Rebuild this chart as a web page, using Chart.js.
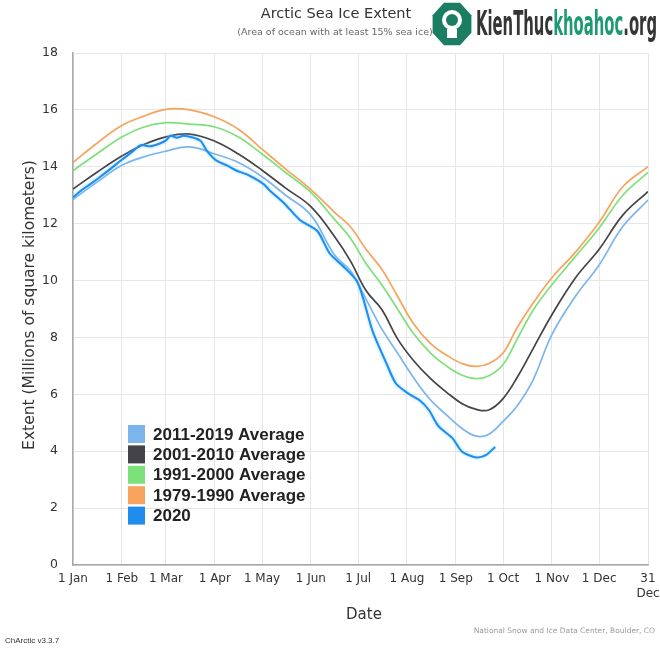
<!DOCTYPE html>
<html>
<head>
<meta charset="utf-8">
<title>Arctic Sea Ice Extent</title>
<script src="https://cdn.jsdelivr.net/npm/chart.js@4.4.1/dist/chart.umd.min.js"></script>
<style>
  html, body { margin: 0; padding: 0; background: #fff; }
  #wrap { width: 660px; height: 648px; }
</style>
</head>
<body>
<div id="wrap"><canvas id="iceChart" width="660" height="648"></canvas></div>
<script>
// day of year for the averaged curves
const days = [0, 15, 31, 45, 59, 74, 90, 105, 120, 135, 151, 166, 176, 186, 196, 206, 216, 227, 237, 247, 256, 264, 273, 282, 292, 304, 319, 334, 349, 365];

// extent, millions of km2
const avg2011_2019 = [12.85, 13.45, 14.05, 14.35, 14.55, 14.7, 14.45, 14.15, 13.65, 13.0, 12.3, 10.9, 10.35, 9.35, 8.3, 7.45, 6.6, 5.8, 5.28, 4.8, 4.53, 4.6, 5.05, 5.6, 6.5, 8.1, 9.45, 10.55, 11.9, 12.83];
const avg2001_2010 = [13.22, 13.8, 14.38, 14.78, 15.05, 15.15, 14.9, 14.45, 13.88, 13.25, 12.6, 11.55, 10.7, 9.65, 8.98, 7.95, 7.2, 6.55, 6.08, 5.67, 5.47, 5.45, 5.85, 6.6, 7.6, 8.8, 10.1, 11.1, 12.3, 13.13];
const avg1991_2000 = [13.86, 14.45, 15.05, 15.4, 15.55, 15.5, 15.4, 15.05, 14.45, 13.8, 13.1, 12.15, 11.5, 10.6, 9.85, 9.0, 8.15, 7.45, 7.0, 6.67, 6.55, 6.65, 7.05, 7.95, 8.95, 9.85, 10.85, 11.85, 13.0, 13.8];
const avg1979_1990 = [14.15, 14.82, 15.45, 15.78, 16.02, 16.0, 15.75, 15.32, 14.62, 13.92, 13.2, 12.4, 11.9, 11.1, 10.4, 9.45, 8.5, 7.78, 7.38, 7.08, 6.98, 7.08, 7.45, 8.35, 9.2, 10.1, 11.0, 12.05, 13.3, 14.0];

// 2020 readings
const days2020 = [0, 5, 11, 19, 30, 38, 43, 49, 55, 59, 62, 66, 70, 76, 81, 85, 91, 98, 104, 110, 114, 121, 125, 134, 144, 155, 163, 171, 180, 184, 190, 199, 205, 213, 220, 226, 232, 241, 247, 256, 262, 268];
const ext2020 = [12.92, 13.16, 13.39, 13.72, 14.2, 14.55, 14.76, 14.72, 14.82, 14.93, 15.09, 15.02, 15.09, 15.03, 14.91, 14.56, 14.22, 14.04, 13.86, 13.74, 13.63, 13.39, 13.16, 12.72, 12.13, 11.75, 10.95, 10.53, 10.0, 9.41, 8.25, 7.08, 6.38, 6.02, 5.79, 5.44, 4.88, 4.45, 3.98, 3.78, 3.86, 4.15];

const monthTicks = [0, 31, 59, 90, 120, 151, 181, 212, 243, 273, 304, 334, 365];
const monthLabels = ['1 Jan', '1 Feb', '1 Mar', '1 Apr', '1 May', '1 Jun', '1 Jul', '1 Aug', '1 Sep', '1 Oct', '1 Nov', '1 Dec', ['31', 'Dec']];

const seriesNames = ['2011-2019 Average', '2001-2010 Average', '1991-2000 Average', '1979-1990 Average', '2020'];
const seriesColors = ['#7cb5ec', '#434348', '#7ee07a', '#f7a35c', '#1f8ded'];

const FONT = '"DejaVu Sans", "Open Sans", sans-serif';

const toPoints = (xs, ys) => xs.map((d, i) => ({ x: d, y: ys[i] }));

function lineSet(i, values, xs) {
  return {
    label: seriesNames[i],
    data: toPoints(xs, values),
    borderColor: seriesColors[i],
    backgroundColor: seriesColors[i],
    borderWidth: i === 4 ? 2 : 1.7,
    pointRadius: 0,
    tension: i === 4 ? 0.25 : 0.4,
    fill: false,
    order: i === 4 ? 0 : 1
  };
}

// glow under the 2020 line
const glowPlugin = {
  id: 'glow',
  beforeDatasetDraw(chart, args) {
    if (args.index !== 4) return;
    chart.ctx.save();
    chart.ctx.shadowColor = 'rgba(110,205,255,0.8)';
    chart.ctx.shadowBlur = 3;
  },
  afterDatasetDraw(chart, args) {
    if (args.index !== 4) return;
    chart.ctx.restore();
  }
};

// titles, legend, credits
const textPlugin = {
  id: 'texts',
  afterDraw(chart) {
    const ctx = chart.ctx;
    ctx.save();

    ctx.fillStyle = '#333';
    ctx.textAlign = 'center';
    ctx.textBaseline = 'middle';
    ctx.font = '14.5px ' + FONT;
    ctx.fillText('Arctic Sea Ice Extent', 336, 14);
    ctx.fillStyle = '#666';
    ctx.font = '9.5px ' + FONT;
    ctx.fillText('(Area of ocean with at least 15% sea ice)', 335, 33);

    ctx.fillStyle = '#333';
    ctx.font = '15px ' + FONT;
    ctx.fillText('Date', 364, 615);

    ctx.save();
    ctx.translate(30, 305);
    ctx.rotate(-Math.PI / 2);
    ctx.font = '15.5px ' + FONT;
    ctx.fillText('Extent (Millions of square kilometers)', 0, 0);
    ctx.restore();

    ctx.textAlign = 'right';
    ctx.fillStyle = '#999';
    ctx.font = '7.5px ' + FONT;
    ctx.fillText('National Snow and Ice Data Center, Boulder, CO', 655, 631);
    ctx.textAlign = 'left';
    ctx.fillStyle = '#333';
    ctx.font = '8px "Liberation Sans", Arial, sans-serif';
    ctx.fillText('ChArctic v3.3.7', 5, 641);

    // legend inside the plot
    chart.data.datasets.forEach((ds, i) => {
      const y = 425 + i * 20.4;
      ctx.fillStyle = ds.borderColor;
      ctx.fillRect(128, y, 17, 18);
      ctx.fillStyle = '#222';
      ctx.font = 'bold 17px "Liberation Sans", Arial, sans-serif';
      ctx.textBaseline = 'middle';
      ctx.fillText(ds.label, 153, y + 10);
    });

    // watermark
    ctx.fillStyle = '#1b7d62';
    ctx.beginPath();
    for (let k = 0; k < 8; k++) {
      const a = Math.PI / 8 + k * Math.PI / 4;
      const px = 452 + 21 * Math.cos(a), py = 24 + 23 * Math.sin(a);
      if (k === 0) ctx.moveTo(px, py); else ctx.lineTo(px, py);
    }
    ctx.closePath();
    ctx.fill();
    ctx.fillStyle = '#fff';
    ctx.beginPath();
    ctx.arc(452, 20, 10, 0, Math.PI * 2);
    ctx.fill();
    ctx.fillRect(447, 29, 10, 9);
    ctx.fillStyle = '#1b7d62';
    ctx.beginPath();
    ctx.arc(452, 20, 6, 0, Math.PI * 2);
    ctx.fill();

    ctx.save();
    ctx.font = 'bold 34px "DejaVu Sans Condensed", "DejaVu Sans", sans-serif';
    ctx.textBaseline = 'alphabetic';
    const p1 = 'KienThuc', p2 = 'khoahoc', p3 = '.org';
    const w1 = ctx.measureText(p1).width, w2 = ctx.measureText(p2).width, w3 = ctx.measureText(p3).width;
    ctx.translate(476, 35);
    ctx.scale(181 / (w1 + w2 + w3), 1);
    ctx.fillStyle = '#353535';
    ctx.fillText(p1, 0, 0);
    ctx.fillStyle = '#1d9a74';
    ctx.fillText(p2, w1, 0);
    ctx.fillStyle = '#353535';
    ctx.fillText(p3, w1 + w2, 0);
    ctx.restore();

    ctx.restore();
  }
};

const ctx = document.getElementById('iceChart').getContext('2d');

new Chart(ctx, {
  type: 'line',
  data: {
    datasets: [
      lineSet(0, avg2011_2019, days),
      lineSet(1, avg2001_2010, days),
      lineSet(2, avg1991_2000, days),
      lineSet(3, avg1979_1990, days),
      lineSet(4, ext2020, days2020)
    ]
  },
  options: {
    responsive: false,
    animation: false,
    layout: { padding: { top: 53, right: 12, left: 0, bottom: 0 } },
    plugins: {
      legend: { display: false },
      title: { display: false },
      tooltip: { enabled: false }
    },
    scales: {
      x: {
        type: 'linear',
        min: 0,
        max: 365,
        afterBuildTicks: (axis) => { axis.ticks = monthTicks.map(v => ({ value: v })); },
        afterFit: (axis) => { axis.height = 83; axis.paddingLeft = 0; axis.paddingRight = 0; },
        grid: { color: '#e6e6e6', drawTicks: false },
        border: { color: '#a8a8a8', width: 1.5 },
        ticks: {
          padding: 7,
          autoSkip: false,
          maxRotation: 0,
          color: '#333',
          font: { family: FONT, size: 12 },
          callback: (v) => monthLabels[monthTicks.indexOf(v)]
        }
      },
      y: {
        min: 0,
        max: 18,
        afterFit: (axis) => { axis.width = 73; axis.paddingTop = 0; axis.paddingBottom = 0; },
        grid: { color: '#e6e6e6', drawTicks: false },
        border: { color: '#a8a8a8', width: 1.5 },
        ticks: {
          stepSize: 2,
          padding: 15,
          color: '#333',
          font: { family: FONT, size: 12.5 }
        }
      }
    }
  },
  plugins: [glowPlugin, textPlugin]
});
</script>
</body>
</html>
